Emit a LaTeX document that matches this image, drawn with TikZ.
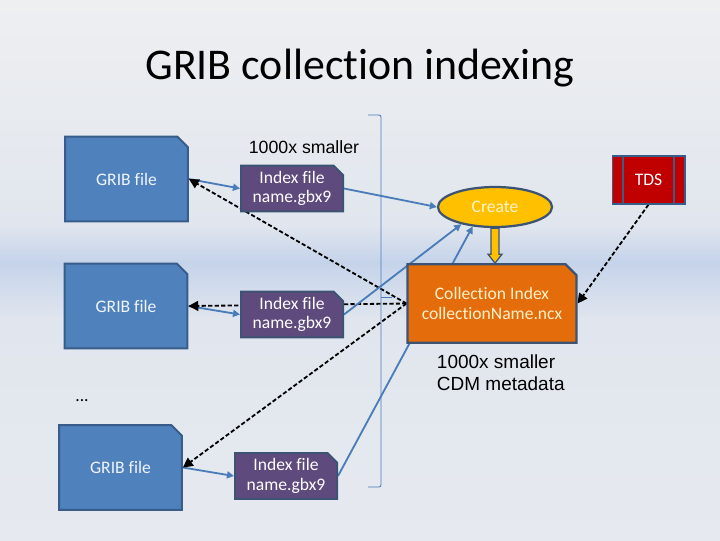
\documentclass[tikz,border=0pt]{standalone}
\usepackage{fontspec}
\setmainfont{Carlito}[Ligatures=NoCommon]
\newfontfamily\arialfont{Liberation Sans}
\usetikzlibrary{arrows.meta,calc,shapes.misc,shapes.geometric}
\definecolor{gribfill}{HTML}{4F81BD}
\definecolor{gribline}{HTML}{385D8A}
\definecolor{idxfill}{HTML}{5F4A7D}
\definecolor{boxline}{HTML}{3D5373}
\definecolor{createfill}{HTML}{FFC000}
\definecolor{collfill}{HTML}{E46C0A}
\definecolor{tdsfill}{HTML}{C00000}
\definecolor{flow}{HTML}{4A7CBA}
\definecolor{cream}{HTML}{FFF2CC}
\definecolor{bgtop}{HTML}{EEEFF1}
\definecolor{bgmid}{HTML}{E1E6EE}
\definecolor{bgband}{HTML}{C5D3EA}
\definecolor{bgbot}{HTML}{E6E9EF}
\pgfdeclarelayer{back}
\pgfdeclarelayer{links}
\pgfsetlayers{back,links,main}

\begin{document}
\begin{tikzpicture}[x=0.025cm, y=-0.025cm, >=Stealth,
  filebox/.style={chamfered rectangle, chamfered rectangle corners=north east,
    chamfered rectangle xsep=5pt, inner sep=0pt, line width=1.4pt,
    font=\fontsize{12.5}{14}\selectfont, align=center},
  gribbox/.style={filebox, fill=gribfill, draw=gribline, text=white!92!gribfill,
    minimum width=3.07cm, minimum height=2.12cm},
  idxbox/.style={filebox, fill=idxfill, draw=boxline, text=white,
    minimum width=2.55cm, minimum height=1.14cm, chamfered rectangle xsep=3.5pt},
  flowarr/.style={->, >={Triangle[length=5pt,width=5pt]}, draw=flow, line width=1.3pt},
  dasharr/.style={->, >={Triangle[length=7pt,width=7pt]}, black, line width=1.3pt,
    dash pattern=on 3pt off 1.6pt}]

  \useasboundingbox (0,0) rectangle (720,540);

  % --- Background ---
  \begin{pgfonlayer}{back}
    \shade[top color=bgtop, bottom color=bgmid] (0,0) rectangle (720,225);
    \shade[top color=bgmid, bottom color=bgband] (0,225) rectangle (720,262);
    \shade[top color=bgband, bottom color=bgmid] (0,262) rectangle (720,320);
    \shade[top color=bgmid, bottom color=bgbot] (0,320) rectangle (720,540);
  \end{pgfonlayer}

  % --- Title ---
  \node[font=\fontsize{31.2}{36}\selectfont] (title) at (360,68) {GRIB collection indexing};

  % --- GRIB files and their index files ---
  \node[gribbox] (grib1) at (126.5,179) {GRIB file};
  \node[gribbox] (grib2) at (126,306) {GRIB file};
  \node[gribbox] (grib3) at (120.5,467.5) {GRIB file};
  \node[idxbox] (idx1) at (292,188.5) {Index file\\name.gbx9};
  \node[idxbox] (idx2) at (292,314.5) {Index file\\name.gbx9};
  \node[idxbox] (idx3) at (286,476) {Index file\\name.gbx9};
  \node[font=\fontsize{12.5}{14}\selectfont] (dots) at (82,401) {...};
  \node[font=\arialfont\fontsize{12.6}{14}\selectfont] (small1) at (304,147) {1000x smaller};

  % --- Bracket ---
  \draw[flow, line width=0.6pt, rounded corners=1.5pt] (368,115) -- (381,115) -- (381,487) -- (368,487);
  \draw[flow, line width=0.6pt] (381,297) -- (392,297);

  % --- Collection index ---
  \node[ellipse, fill=createfill, draw=boxline, line width=1.6pt, text=cream,
    minimum width=2.85cm, minimum height=1.0cm, font=\fontsize{12.5}{14}\selectfont]
    (create) at (495,207) {Create};
  \node[filebox, fill=collfill, draw=boxline, text=cream, line width=1.6pt,
    minimum width=4.22cm, minimum height=1.96cm, chamfered rectangle xsep=4.5pt]
    (coll) at (492,303.5) {Collection Index\\collectionName.ncx};
  \node[rectangle, fill=tdsfill, draw=gribline, line width=1.4pt, text=white,
    minimum width=1.8cm, minimum height=1.18cm, font=\fontsize{12.5}{14}\selectfont,
    path picture={
      \draw[gribline, line width=1.2pt]
        ([xshift=7.5pt]path picture bounding box.north west) -- ([xshift=7.5pt]path picture bounding box.south west)
        ([xshift=-7.5pt]path picture bounding box.north east) -- ([xshift=-7.5pt]path picture bounding box.south east);
    }] (tds) at (648.5,180) {TDS};
  \node[font=\arialfont\fontsize{13.5}{15.5}\selectfont, align=left, anchor=west]
    (small2) at (432,373) {1000x smaller\\CDM metadata};

  % block arrow create -> collection index
  \draw[fill=createfill, draw=boxline, line width=0.9pt]
    ($(create.south)+(-4,0)$) -- ($(create.south |- coll.north)+(-4,-9)$)
    -- ++(-3,0) -- (create.south |- coll.north) -- ($(create.south |- coll.north)+(7,-9)$)
    -- ++(-3,0) -- ($(create.south)+(4,0)$) -- cycle;

  % --- Connectors ---
  \begin{pgfonlayer}{links}
    \foreach \i in {1,2,3} {
      \draw[flowarr] (grib\i.east) -- (idx\i.west);
      \draw[dasharr] (coll.west) -- (grib\i.east);
    }
    \draw[flowarr] (idx1.east) -- (create.west);
    \draw[flowarr] (idx2.east) -- (create.207);
    \draw[flowarr] (idx3.east) -- (create.221);
    \draw[dasharr] (tds.south) -- (coll.east);
  \end{pgfonlayer}

\end{tikzpicture}
\end{document}
